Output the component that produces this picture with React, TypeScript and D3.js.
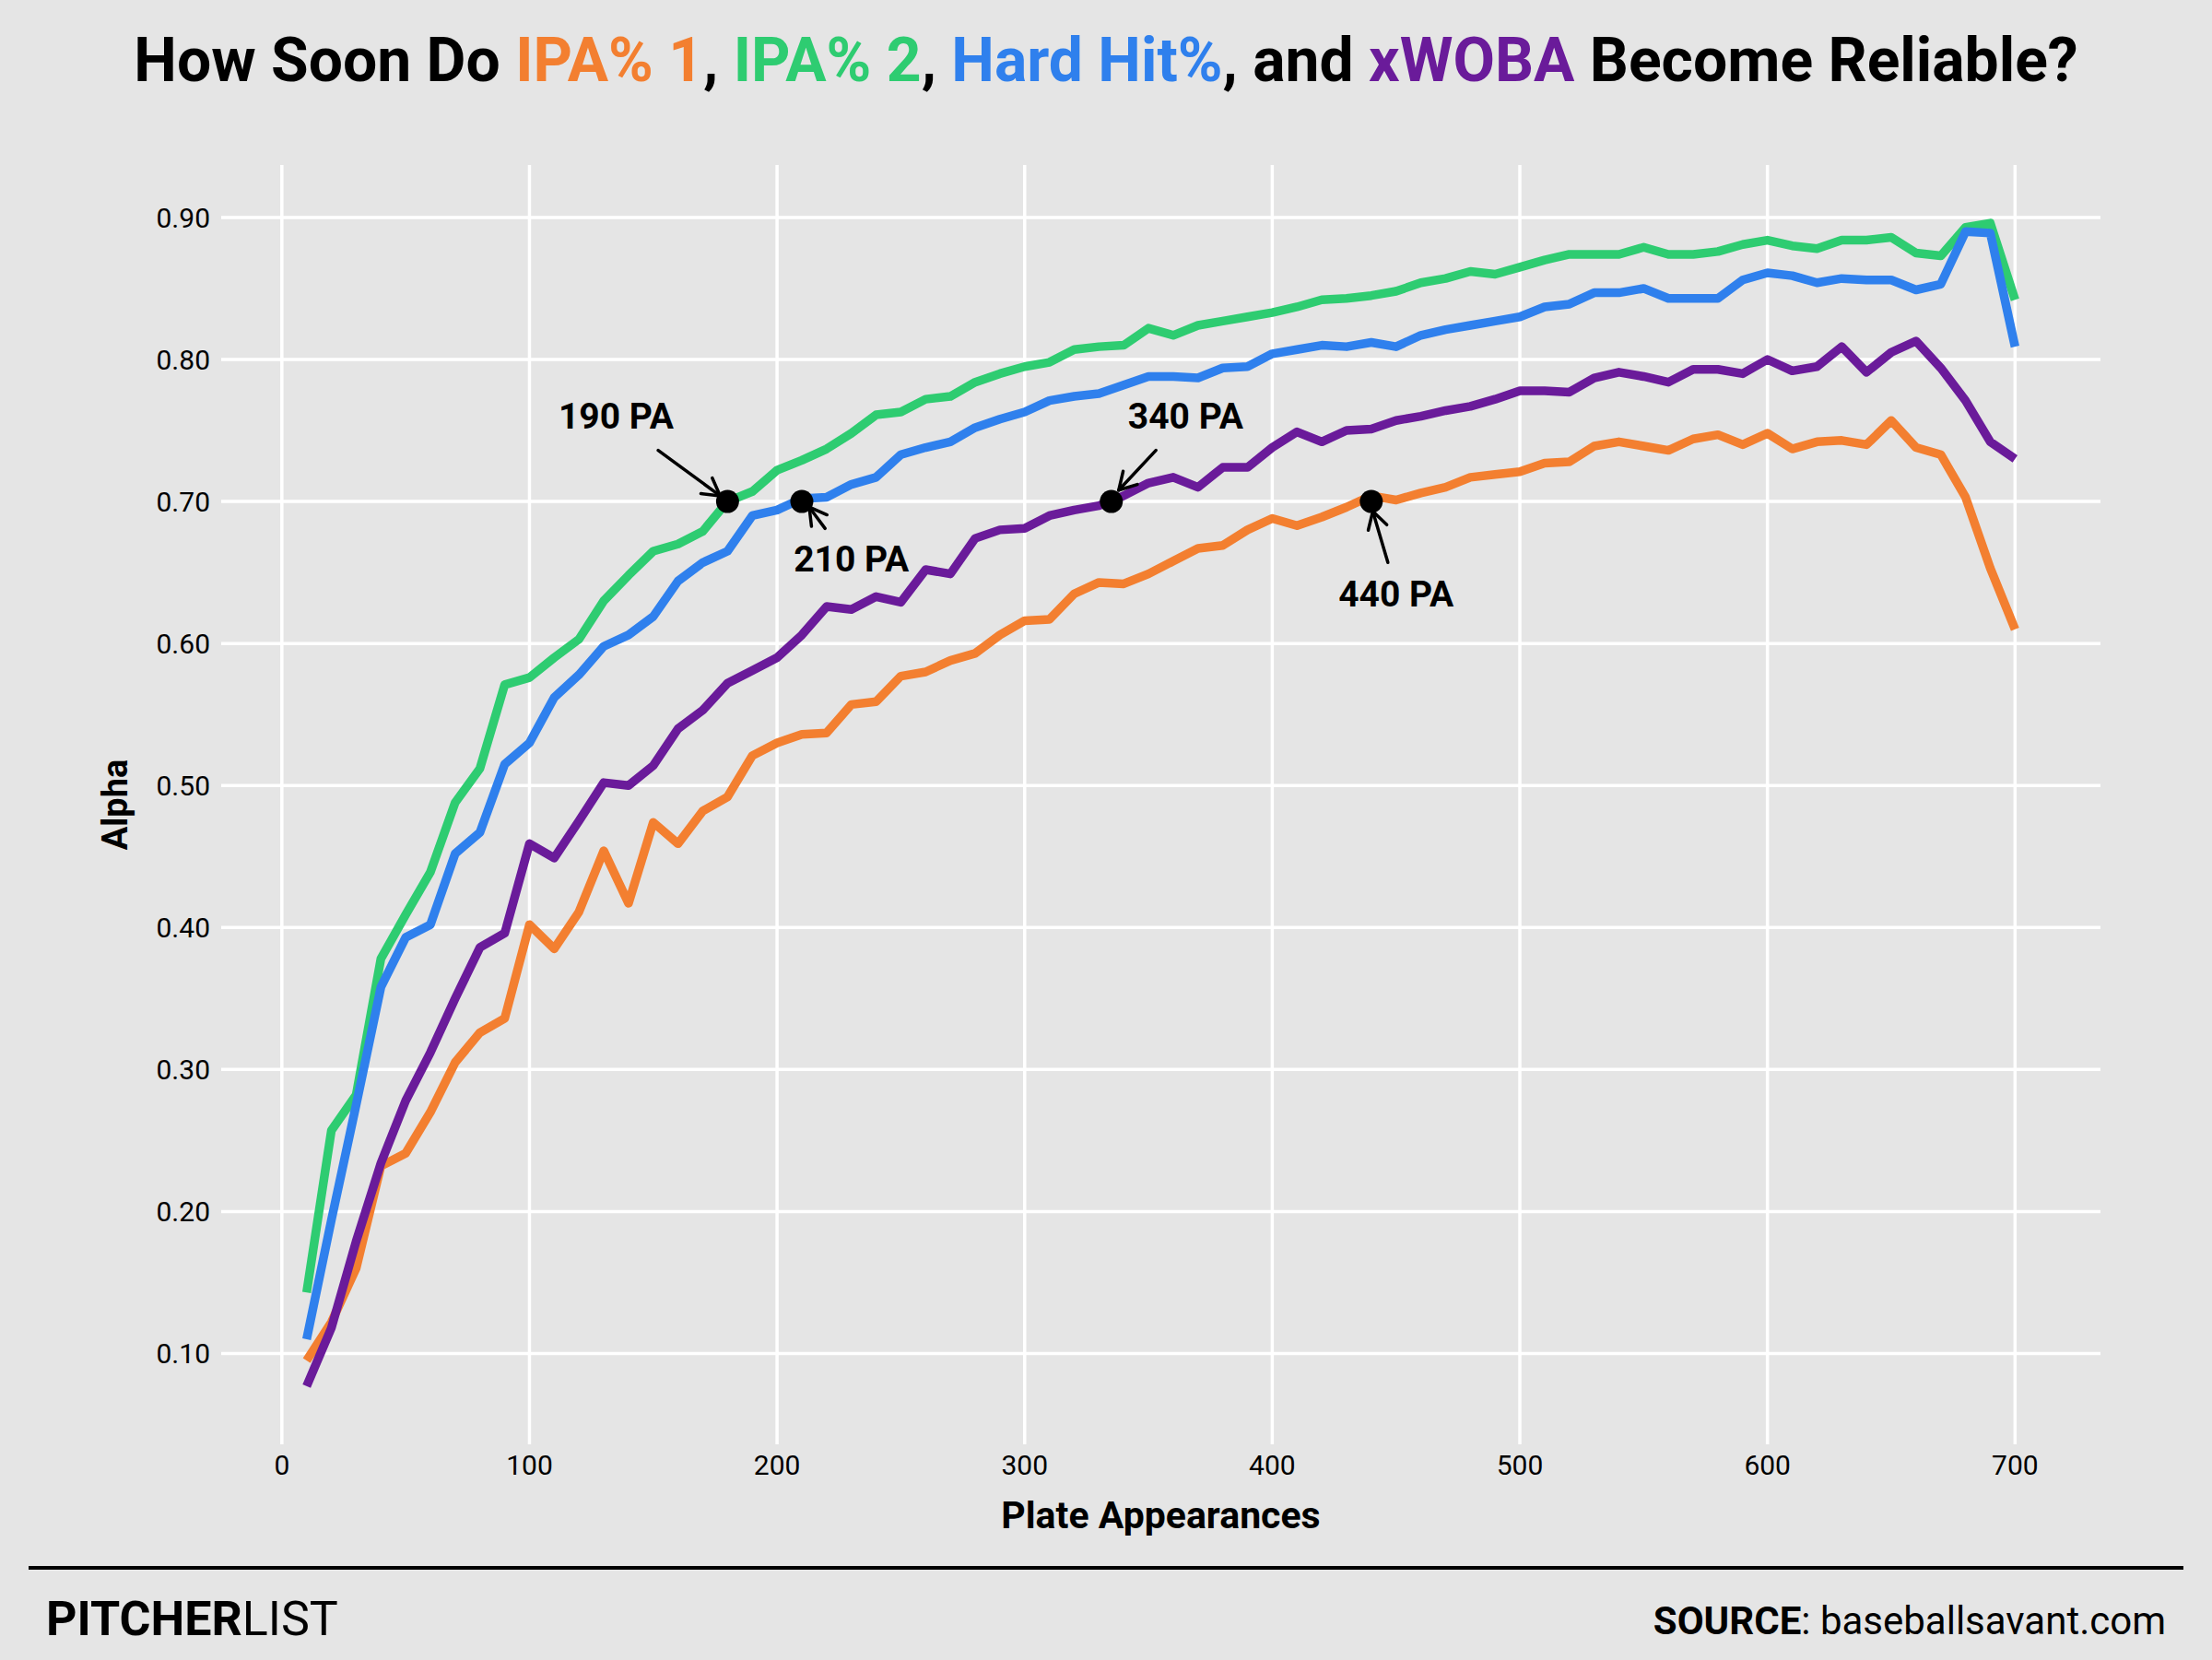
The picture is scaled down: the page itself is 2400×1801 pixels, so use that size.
import React from 'react';
import * as d3 from 'd3';

// plate appearances (x) and alpha for each metric
const plateAppearances = [
  10, 20, 30, 40, 50, 60, 70, 80, 90, 100,
  110, 120, 130, 140, 150, 160, 170, 180, 190, 200,
  210, 220, 230, 240, 250, 260, 270, 280, 290, 300,
  310, 320, 330, 340, 350, 360, 370, 380, 390, 400,
  410, 420, 430, 440, 450, 460, 470, 480, 490, 500,
  510, 520, 530, 540, 550, 560, 570, 580, 590, 600,
  610, 620, 630, 640, 650, 660, 670, 680, 690, 700,
];

const ipa1 = [
  0.095, 0.122, 0.160, 0.232, 0.241, 0.270, 0.305, 0.326, 0.336, 0.402,
  0.385, 0.411, 0.454, 0.417, 0.474, 0.459, 0.482, 0.492, 0.521, 0.530,
  0.536, 0.537, 0.557, 0.559, 0.577, 0.580, 0.588, 0.593, 0.606, 0.616,
  0.617, 0.635, 0.643, 0.642, 0.649, 0.658, 0.667, 0.669, 0.680, 0.688,
  0.683, 0.689, 0.696, 0.704, 0.701, 0.706, 0.710, 0.717, 0.719, 0.721,
  0.727, 0.728, 0.739, 0.742, 0.739, 0.736, 0.744, 0.747, 0.740, 0.748,
  0.737, 0.742, 0.743, 0.740, 0.757, 0.738, 0.733, 0.703, 0.653, 0.610,
];

const ipa2 = [
  0.143, 0.257, 0.282, 0.378, 0.409, 0.439, 0.488, 0.512, 0.571, 0.576,
  0.590, 0.603, 0.630, 0.648, 0.665, 0.670, 0.679, 0.700, 0.707, 0.722,
  0.729, 0.737, 0.748, 0.761, 0.763, 0.772, 0.774, 0.784, 0.790, 0.795,
  0.798, 0.807, 0.809, 0.810, 0.822, 0.817, 0.824, 0.827, 0.830, 0.833,
  0.837, 0.842, 0.843, 0.845, 0.848, 0.854, 0.857, 0.862, 0.860, 0.865,
  0.870, 0.874, 0.874, 0.874, 0.879, 0.874, 0.874, 0.876, 0.881, 0.884,
  0.880, 0.878, 0.884, 0.884, 0.886, 0.875, 0.873, 0.893, 0.896, 0.842,
];

const hardHit = [
  0.110, 0.194, 0.275, 0.358, 0.393, 0.402, 0.452, 0.467, 0.515, 0.530,
  0.562, 0.578, 0.598, 0.606, 0.619, 0.644, 0.657, 0.665, 0.690, 0.694,
  0.702, 0.703, 0.712, 0.717, 0.733, 0.738, 0.742, 0.752, 0.758, 0.763,
  0.771, 0.774, 0.776, 0.782, 0.788, 0.788, 0.787, 0.794, 0.795, 0.804,
  0.807, 0.810, 0.809, 0.812, 0.809, 0.817, 0.821, 0.824, 0.827, 0.830,
  0.837, 0.839, 0.847, 0.847, 0.850, 0.843, 0.843, 0.843, 0.856, 0.861,
  0.859, 0.854, 0.857, 0.856, 0.856, 0.849, 0.853, 0.890, 0.889, 0.809,
];

const xwoba = [
  0.077, 0.118, 0.179, 0.234, 0.278, 0.312, 0.350, 0.386, 0.396, 0.459,
  0.449, 0.475, 0.502, 0.500, 0.514, 0.540, 0.553, 0.572, 0.581, 0.590,
  0.606, 0.626, 0.624, 0.633, 0.629, 0.652, 0.649, 0.674, 0.680, 0.681,
  0.690, 0.694, 0.697, 0.704, 0.713, 0.717, 0.710, 0.724, 0.724, 0.738,
  0.749, 0.742, 0.750, 0.751, 0.757, 0.760, 0.764, 0.767, 0.772, 0.778,
  0.778, 0.777, 0.787, 0.791, 0.788, 0.784, 0.793, 0.793, 0.790, 0.800,
  0.792, 0.795, 0.809, 0.791, 0.805, 0.813, 0.794, 0.771, 0.742, 0.730,
];

const xTicks = [0, 100, 200, 300, 400, 500, 600, 700];
const yTicks = [0.1, 0.2, 0.3, 0.4, 0.5, 0.6, 0.7, 0.8, 0.9];

// drawn in this order (later on top)
const series = [
  { name: 'IPA% 1', values: ipa1, color: '#f37f30' },
  { name: 'IPA% 2', values: ipa2, color: '#2ecc71' },
  { name: 'Hard Hit%', values: hardHit, color: '#2f80ed' },
  { name: 'xWOBA', values: xwoba, color: '#6a1b9a' },
];

// label, dot (x,y), text centre (tx,ty), arrow from (ax0,ay0) to (ax1,ay1)
const callouts = [
  { label: '190 PA', x: 180, y: 0.70, tx: 135, ty: 0.760, ax0: 152, ay0: 0.736, ax1: 177, ay1: 0.704 },
  { label: '210 PA', x: 210, y: 0.70, tx: 230, ty: 0.660, ax0: 219.4, ay0: 0.681, ax1: 213, ay1: 0.696 },
  { label: '340 PA', x: 335, y: 0.70, tx: 365, ty: 0.760, ax0: 353, ay0: 0.736, ax1: 338, ay1: 0.708 },
  { label: '440 PA', x: 440, y: 0.70, tx: 450, ty: 0.635, ax0: 446.7, ay0: 0.657, ax1: 440.6, ay1: 0.693 },
];

const W = 2400;
const H = 1801;
const panel = { left: 240, right: 2279, top: 179, bottom: 1567 };
const BG = '#e5e5e5';
const FONT = 'Roboto, "Noto Sans", sans-serif';

// ggplot style 5% expansion
const expand = (ext: [number, number]): [number, number] => {
  const pad = (ext[1] - ext[0]) * 0.05;
  return [ext[0] - pad, ext[1] + pad];
};

const arrowHead = (x0: number, y0: number, x1: number, y1: number, len = 21, angle = Math.PI / 6) => {
  const a = Math.atan2(y0 - y1, x0 - x1);
  const p1 = [x1 + len * Math.cos(a + angle), y1 + len * Math.sin(a + angle)];
  const p2 = [x1 + len * Math.cos(a - angle), y1 + len * Math.sin(a - angle)];
  return `M${p1[0]},${p1[1]}L${x1},${y1}L${p2[0]},${p2[1]}`;
};

const App: React.FC = () => {
  const xExt = d3.extent(plateAppearances) as [number, number];
  const allValues = series.flatMap(s => s.values);
  const yExt = d3.extent(allValues) as [number, number];

  const xScale = d3.scaleLinear().domain(expand(xExt)).range([panel.left, panel.right]);
  const yScale = d3.scaleLinear().domain(expand(yExt)).range([panel.bottom, panel.top]);

  const line = d3.line<number>()
    .x((_, i) => xScale(plateAppearances[i]))
    .y(d => yScale(d));

  return (
    <svg width={W} height={H} viewBox={`0 0 ${W} ${H}`}
      style={{ position: 'absolute', left: 0, top: 0, display: 'block' }}
      fontFamily={FONT}>
      <rect x={0} y={0} width={W} height={H} fill={BG} />

      {/* title */}
      <text x={W / 2} y={88} textAnchor="middle" fontSize={66} fontWeight={700} fill="#000">
        <tspan>How Soon Do </tspan>
        <tspan fill={series[0].color}>IPA% 1</tspan>
        <tspan>, </tspan>
        <tspan fill={series[1].color}>IPA% 2</tspan>
        <tspan>, </tspan>
        <tspan fill={series[2].color}>Hard Hit%</tspan>
        <tspan>, and </tspan>
        <tspan fill={series[3].color}>xWOBA</tspan>
        <tspan> Become Reliable?</tspan>
      </text>

      {/* grid */}
      <g stroke="#ffffff" strokeWidth={3.5}>
        {yTicks.map(t => (
          <line key={`gy${t}`} x1={panel.left} x2={panel.right} y1={yScale(t)} y2={yScale(t)} />
        ))}
        {xTicks.map(t => (
          <line key={`gx${t}`} x1={xScale(t)} x2={xScale(t)} y1={panel.top} y2={panel.bottom} />
        ))}
      </g>

      {/* tick labels */}
      <g fontSize={30} fill="#000">
        {yTicks.map(t => (
          <text key={`ly${t}`} x={panel.left - 12} y={yScale(t)} dy="0.36em" textAnchor="end">
            {d3.format('.2f')(t)}
          </text>
        ))}
        {xTicks.map(t => (
          <text key={`lx${t}`} x={xScale(t)} y={panel.bottom + 33} textAnchor="middle">
            {t}
          </text>
        ))}
      </g>

      {/* axis titles */}
      <text x={(panel.left + panel.right) / 2} y={1658} textAnchor="middle" fontSize={41} fontWeight={700}>
        Plate Appearances
      </text>
      <text transform={`translate(138,${(panel.top + panel.bottom) / 2}) rotate(-90)`}
        textAnchor="middle" fontSize={38} fontWeight={700}>
        Alpha
      </text>

      {/* lines */}
      <g fill="none" strokeWidth={9.5} strokeLinejoin="round" strokeLinecap="butt">
        {series.map(s => (
          <path key={s.name} d={line(s.values) ?? ''} stroke={s.color} />
        ))}
      </g>

      {/* callouts */}
      <g>
        {callouts.map(c => {
          const x0 = xScale(c.ax0), y0 = yScale(c.ay0);
          const x1 = xScale(c.ax1), y1 = yScale(c.ay1);
          return (
            <g key={c.label}>
              <circle cx={xScale(c.x)} cy={yScale(c.y)} r={12.5} fill="#000" />
              <line x1={x0} y1={y0} x2={x1} y2={y1} stroke="#000" strokeWidth={3.5} strokeLinecap="round" />
              <path d={arrowHead(x0, y0, x1, y1)} fill="none" stroke="#000" strokeWidth={3.5}
                strokeLinecap="round" strokeLinejoin="round" />
              <text x={xScale(c.tx)} y={yScale(c.ty)} dy="0.355em" textAnchor="middle"
                fontSize={39} fontWeight={700} fill="#000">
                {c.label}
              </text>
            </g>
          );
        })}
      </g>

      {/* footer */}
      <line x1={31} x2={2369} y1={1701} y2={1701} stroke="#000" strokeWidth={4} />
      <text x={50} y={1774} fontSize={52} fill="#000">
        <tspan fontWeight={700}>PITCHER</tspan>
        <tspan fontWeight={400}>LIST</tspan>
      </text>
      <text x={2350} y={1773} textAnchor="end" fontSize={42} fill="#000">
        <tspan fontWeight={700}>SOURCE</tspan>
        <tspan fontWeight={400}>: baseballsavant.com</tspan>
      </text>
    </svg>
  );
};

export default App;
